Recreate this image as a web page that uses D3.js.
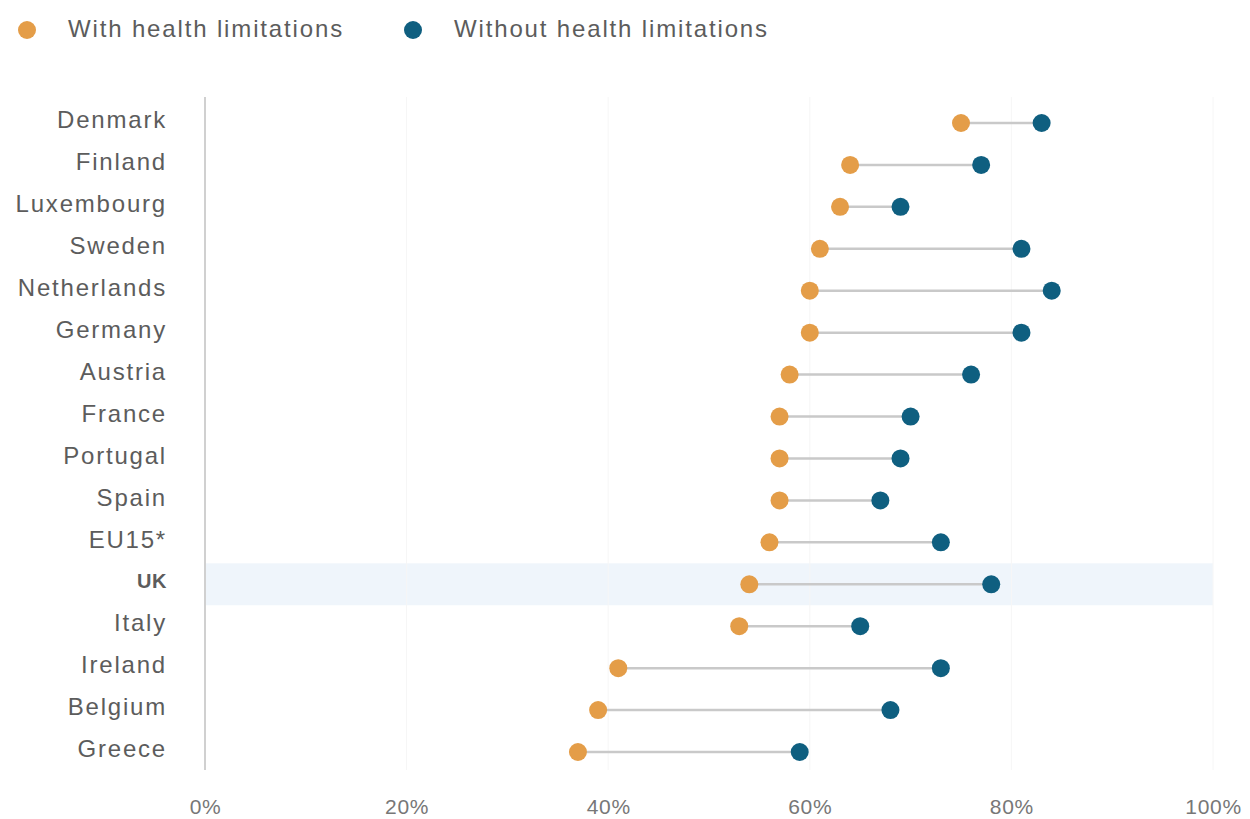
<!DOCTYPE html>
<html>
<head>
<meta charset="utf-8">
<script src="https://cdn.jsdelivr.net/npm/d3@7"></script>
<style>
  html, body { margin: 0; padding: 0; background: #fff; }
  svg { display: block; font-family: "Liberation Sans", Arial, sans-serif; }
</style>
</head>
<body>
<svg id="chart" width="1250" height="819"></svg>
<script>
// Share of people employed, with and without health limitations
const countries = ["Denmark", "Finland", "Luxembourg", "Sweden", "Netherlands", "Germany",
  "Austria", "France", "Portugal", "Spain", "EU15*", "UK", "Italy", "Ireland", "Belgium", "Greece"];
const withLimitations = [75, 64, 63, 61, 60, 60, 58, 57, 57, 57, 56, 54, 53, 41, 39, 37];
const withoutLimitations = [83, 77, 69, 81, 84, 81, 76, 70, 69, 67, 73, 78, 65, 73, 68, 59];
const xTicks = [0, 20, 40, 60, 80, 100];
const seriesNames = ["With health limitations", "Without health limitations"];
const highlighted = "UK";

const colors = { with: "#E49D48", without: "#0F5F80" };

const svg = d3.select("#chart");
const margin = { left: 205, right: 37 };
const W = 1250;

const x = d3.scaleLinear().domain([0, 100]).range([margin.left, W - margin.right]);
const y = d3.scalePoint().domain(countries).range([123, 752]);
const step = y.step();

// highlight band behind the UK row
svg.append("rect")
  .attr("x", x(0)).attr("width", x(100) - x(0))
  .attr("y", y(highlighted) - step / 2).attr("height", step)
  .attr("fill", "#eff5fb");

// faint vertical gridlines
svg.append("g").selectAll("line")
  .data(xTicks.slice(1))
  .join("line")
  .attr("x1", d => x(d)).attr("x2", d => x(d))
  .attr("y1", 97).attr("y2", 770)
  .attr("stroke", "#f6f6f6").attr("stroke-width", 1);

// left axis line
svg.append("line")
  .attr("x1", x(0)).attr("x2", x(0))
  .attr("y1", 97).attr("y2", 770)
  .attr("stroke", "#d0d0d0").attr("stroke-width", 2);

// bottom axis tick labels
const xAxis = d3.axisBottom(x).tickValues(xTicks).tickFormat(d => d + "%").tickSize(0).tickPadding(0);
const gx = svg.append("g").attr("transform", `translate(0, 799)`).call(xAxis);
gx.select(".domain").remove();
gx.selectAll("text")
  .attr("font-size", 21).attr("fill", "#777").attr("letter-spacing", 0.7)
  .attr("font-family", "Liberation Sans, Arial, sans-serif");

// row labels
const yAxis = d3.axisLeft(y).tickSize(0).tickPadding(0);
const gy = svg.append("g").attr("transform", `translate(167, -3)`).call(yAxis);
gy.select(".domain").remove();
gy.selectAll("text")
  .attr("fill", "#5c5c5c")
  .attr("font-family", "Liberation Sans, Arial, sans-serif")
  .attr("font-weight", d => d === highlighted ? "bold" : "normal")
  .attr("font-size", d => d === highlighted ? 20 : 24)
  .attr("letter-spacing", d => d === highlighted ? 0.5 : 1.8);

const rows = countries.map((c, i) => ({ c, a: withLimitations[i], b: withoutLimitations[i] }));

// connecting lines
svg.append("g").selectAll("line")
  .data(rows)
  .join("line")
  .attr("x1", d => x(d.a)).attr("x2", d => x(d.b))
  .attr("y1", d => y(d.c)).attr("y2", d => y(d.c))
  .attr("stroke", "#c9c9c9").attr("stroke-width", 2.5);

// dots
svg.append("g").selectAll("circle")
  .data(rows)
  .join("circle")
  .attr("cx", d => x(d.a)).attr("cy", d => y(d.c))
  .attr("r", 9).attr("fill", colors.with);

svg.append("g").selectAll("circle")
  .data(rows)
  .join("circle")
  .attr("cx", d => x(d.b)).attr("cy", d => y(d.c))
  .attr("r", 9).attr("fill", colors.without);

// legend
const legend = svg.append("g");
const legendItems = [
  { name: seriesNames[0], color: colors.with, x: 27 },
  { name: seriesNames[1], color: colors.without, x: 413 }
];
legendItems.forEach(it => {
  legend.append("circle").attr("cx", it.x).attr("cy", 30).attr("r", 9).attr("fill", it.color);
  legend.append("text").attr("x", it.x + 41).attr("y", 29).attr("dy", "0.35em")
    .attr("font-size", 24).attr("letter-spacing", 1.85)
    .attr("fill", "#5c5c5c").text(it.name);
});
</script>
</body>
</html>
